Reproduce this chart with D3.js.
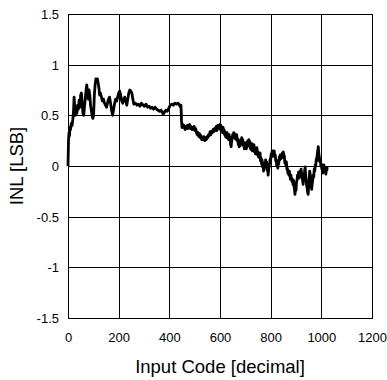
<!DOCTYPE html>
<html>
<head>
<meta charset="utf-8">
<script src="https://cdn.jsdelivr.net/npm/d3@7"></script>
<style>
  html, body { margin: 0; padding: 0; background: #fff; }
  text { font-family: "Liberation Sans", Arial, sans-serif; fill: #000; }
</style>
</head>
<body>
<svg id="chart" width="387" height="380"></svg>
<script>
const codes = [0,2,4,6,8,10,13,16,19,22,24,26,29,32,35,38,41,44,47,50,53,56,59,62,65,68,71,74,77,80,83,86,89,92,95,98,101,104,107,110,113,116,119,122,125,128,132,136,140,144,148,152,156,160,164,168,172,176,180,184,188,192,196,200,204,208,212,216,220,224,228,232,236,240,244,248,252,256,260,266,272,278,284,290,296,302,308,314,320,326,332,338,344,350,356,362,368,372,376,380,386,392,398,404,410,416,422,428,434,440,444,446,
448,450,453,456,459,462,465,468,471,474,477,480,483,486,489,492,495,498,501,504,507,510,513,516,519,522,525,528,531,534,537,540,543,546,549,552,555,558,561,564,567,570,573,576,579,582,585,588,591,594,597,
600,602,604,606,608,610,612,614,616,618,620,622,624,626,628,630,632,634,636,638,640,642,644,646,648,650,652,654,656,658,660,662,664,666,668,670,672,674,676,678,680,682,684,686,688,690,692,694,696,698,
700,702,704,706,708,710,712,714,716,718,720,722,724,726,728,730,732,734,736,738,740,742,744,746,748,750,752,754,756,758,760,762,764,766,768,770,772,774,776,778,780,782,784,786,788,790,792,794,796,798,
800,802,804,806,808,810,812,814,816,818,820,822,824,826,828,830,832,834,836,838,840,842,844,846,848,850,852,854,856,858,860,862,864,866,868,870,872,874,876,878,880,882,884,886,888,890,892,894,896,898,
900,902,904,906,908,910,912,914,916,918,920,922,924,926,928,930,932,934,936,938,940,942,944,946,948,950,952,954,956,958,960,962,964,966,968,970,972,974,976,978,980,982,984,986,988,990,992,994,996,998,
1000,1002,1004,1006,1008,1010,1012,1014,1016,1018,1020,1022,1023];
const inl = [0.00,0.25,0.33,0.30,0.38,0.36,0.42,0.40,0.46,0.55,0.68,0.60,0.50,0.55,0.52,0.60,0.56,0.65,0.58,0.70,0.72,0.62,0.52,0.50,0.58,0.66,0.74,0.80,0.72,0.66,0.75,0.70,0.60,0.55,0.50,0.47,0.50,0.70,0.80,0.86,0.84,0.86,0.82,0.77,0.70,0.72,0.68,0.64,0.66,0.62,0.60,0.58,0.62,0.66,0.68,0.62,0.55,0.50,0.56,0.62,0.66,0.64,0.68,0.72,0.74,0.70,0.64,0.62,0.66,0.68,0.64,0.60,0.66,0.72,0.75,0.74,0.72,0.66,0.61,0.62,0.60,0.61,0.59,0.62,0.60,0.59,0.61,0.58,0.59,0.57,0.58,0.56,0.58,0.56,0.55,0.54,0.55,0.53,0.51,0.53,0.55,0.54,0.57,0.60,0.61,0.60,0.62,0.61,0.62,0.60,0.58,0.60,
0.45,0.38,0.41,0.38,0.40,0.36,0.39,0.37,0.40,0.37,0.39,0.41,0.37,0.39,0.36,0.38,0.36,0.39,0.35,0.37,0.33,0.31,0.33,0.29,0.32,0.28,0.30,0.26,0.28,0.26,0.29,0.25,0.28,0.26,0.29,0.28,0.31,0.30,0.34,0.31,0.34,0.33,0.36,0.34,0.37,0.35,0.39,0.35,0.40,0.37,0.39,
0.41,0.36,0.40,0.35,0.37,0.33,0.38,0.34,0.36,0.31,0.34,0.29,0.32,0.28,0.33,0.29,0.30,0.26,0.31,0.27,0.28,0.21,0.19,0.25,0.27,0.31,0.28,0.33,0.30,0.32,0.27,0.30,0.26,0.31,0.25,0.27,0.21,0.24,0.19,0.22,0.20,0.26,0.23,0.28,0.22,0.26,0.20,0.23,0.17,0.21,
0.18,0.23,0.17,0.21,0.19,0.25,0.21,0.26,0.20,0.24,0.17,0.21,0.16,0.22,0.15,0.19,0.16,0.21,0.14,0.18,0.12,0.16,0.13,0.18,0.11,0.14,0.09,0.12,0.08,0.13,0.05,0.08,0.02,0.06,-0.01,0.02,-0.05,-0.02,0.03,0.00,0.06,0.02,0.04,-0.04,-0.02,-0.09,-0.04,0.00,0.03,0.07,
0.05,0.12,0.09,0.15,0.11,0.14,0.10,0.15,0.09,0.11,0.05,0.06,0.00,0.02,-0.02,0.04,0.02,0.09,0.06,0.11,0.07,0.10,0.08,0.13,0.10,0.14,0.09,0.10,0.03,0.05,0.01,0.04,-0.03,-0.02,-0.07,-0.05,-0.09,-0.05,-0.10,-0.13,-0.09,-0.12,-0.15,-0.13,-0.18,-0.14,-0.20,-0.23,-0.28,-0.22,
-0.24,-0.16,-0.14,-0.09,-0.11,-0.06,-0.12,-0.09,-0.05,-0.08,-0.03,-0.07,-0.11,-0.14,-0.18,-0.13,-0.10,-0.05,-0.01,-0.08,-0.14,-0.19,-0.22,-0.26,-0.28,-0.20,-0.13,-0.05,-0.08,-0.14,-0.20,-0.23,-0.17,-0.14,-0.09,-0.11,-0.03,-0.05,0.01,0.00,0.07,0.05,0.12,0.15,0.19,0.12,0.09,0.04,0.06,0.00,
0.02,-0.03,-0.01,-0.07,-0.03,0.01,-0.02,-0.05,-0.03,-0.08,-0.02,-0.04,0.00];

const xTicks = [0,200,400,600,800,1000,1200];
const yTicks = [-1.5,-1,-0.5,0,0.5,1,1.5];
const xLabel = "Input Code [decimal]";
const yLabel = "INL [LSB]";

const svg = d3.select("#chart");
const L = 68, R = 372, T = 14, B = 318;
const x = d3.scaleLinear().domain([0,1200]).range([L,R]);
const y = d3.scaleLinear().domain([-1.5,1.5]).range([B,T]);

const g = svg.append("g");
g.selectAll("line.v").data(xTicks).enter().append("line")
  .attr("x1", d => Math.round(x(d)) + 0.5).attr("x2", d => Math.round(x(d)) + 0.5)
  .attr("y1", T).attr("y2", B).attr("stroke", "#000").attr("stroke-width", 1);
g.selectAll("line.h").data(yTicks).enter().append("line")
  .attr("y1", d => Math.round(y(d)) + 0.5).attr("y2", d => Math.round(y(d)) + 0.5)
  .attr("x1", L).attr("x2", R).attr("stroke", "#000").attr("stroke-width", 1);
svg.append("rect").attr("x", L + 0.5).attr("y", T + 0.5).attr("width", R - L).attr("height", B - T)
  .attr("fill", "none").attr("stroke", "#000").attr("stroke-width", 1);

const xAxis = d3.axisBottom(x).tickValues(xTicks).tickSize(0).tickPadding(0).tickFormat(d3.format("d"));
const xa = svg.append("g").attr("transform", `translate(0,${B})`).call(xAxis);
xa.select(".domain").remove();
xa.selectAll("text").attr("y", 24).attr("dy", 0).style("font-size", "13px")
  .style("font-family", '"Liberation Sans", Arial, sans-serif');

const yAxis = d3.axisLeft(y).tickValues(yTicks).tickSize(0).tickPadding(0).tickFormat(d => String(d));
const ya = svg.append("g").attr("transform", `translate(${L},0)`).call(yAxis);
ya.select(".domain").remove();
ya.selectAll("text").attr("x", -9).attr("dy", "0.35em").style("font-size", "13px")
  .style("font-family", '"Liberation Sans", Arial, sans-serif');

const data = codes.map((c, i) => [c, inl[i]]);
svg.append("path").datum(data)
  .attr("fill", "none").attr("stroke", "#000").attr("stroke-width", 2.8)
  .attr("stroke-linejoin", "round")
  .attr("d", d3.line().x(d => x(d[0])).y(d => y(d[1])));

svg.append("text").attr("x", (L + R) / 2).attr("y", 373).attr("text-anchor", "middle")
  .style("font-size", "18.5px").text(xLabel);
svg.append("text").attr("transform", `translate(23,${(T + B) / 2}) rotate(-90)`)
  .attr("text-anchor", "middle").style("font-size", "18.5px").text(yLabel);
</script>
</body>
</html>
